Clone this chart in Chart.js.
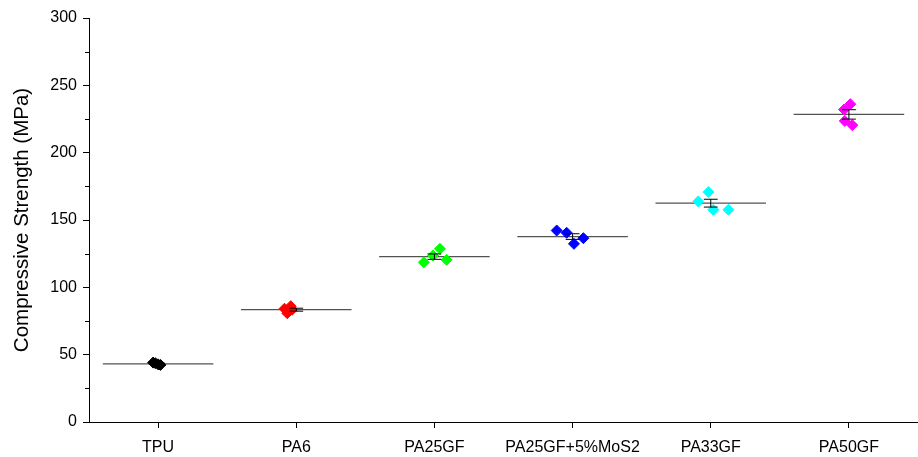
<!DOCTYPE html>
<html>
<head>
<meta charset="utf-8">
<script src="https://cdn.jsdelivr.net/npm/chart.js@4/dist/chart.umd.min.js"></script>
<style>
html,body{margin:0;padding:0;background:#fff;}
#wrap{width:918px;height:457px;}
</style>
</head>
<body>
<div id="wrap"><canvas id="c" width="918" height="457"></canvas></div>
<script>
// ---- data ----
const categories = ['TPU', 'PA6', 'PA25GF', 'PA25GF+5%MoS2', 'PA33GF', 'PA50GF'];
const means  = [43.2, 83.4, 122.8, 137.7, 162.5, 228.4];
const errors = [0.5, 1.1, 2.0, 2.1, 2.9, 3.5];

const tpuValues    = [44.1, 43.7, 42.8, 42.4];
const pa6Values    = [86.0, 84.1, 80.8, 83.4];
const pa25Values   = [118.6, 123.6, 128.6, 120.4];
const mos2Values   = [142.2, 140.5, 132.3, 136.5];
const pa33Values   = [163.8, 170.7, 157.6, 157.6];
const pa50Values   = [236.0, 232.0, 223.6, 220.4];

// horizontal jitter of individual specimens (category units)
const tpuJitter  = [-0.036, -0.02, 0.0, 0.017];
const pa6Jitter  = [-0.04, -0.085, -0.065, -0.03];
const pa25Jitter = [-0.076, -0.01, 0.04, 0.088];
const mos2Jitter = [-0.115, -0.043, 0.01, 0.078];
const pa33Jitter = [-0.09, -0.017, 0.019, 0.128];
const pa50Jitter = [0.01, -0.035, -0.03, 0.025];

const seriesValues = [tpuValues, pa6Values, pa25Values, mos2Values, pa33Values, pa50Values];
const seriesJitter = [tpuJitter, pa6Jitter, pa25Jitter, mos2Jitter, pa33Jitter, pa50Jitter];
const colors = ['#000000', '#ff0000', '#00ff00', '#0000ff', '#00ffff', '#ff00ff'];

const FONT = "'Liberation Sans', Arial, Helvetica, sans-serif";
const MEAN_HALF = 0.4;
const CAP_HALF = 0.05;

// ---- build datasets ----
const datasets = [];

// error bars (top layer)
const errData = [];
means.forEach((m, i) => {
  const e = errors[i];
  errData.push({x: i, y: m - e}, {x: i, y: m + e}, {x: i, y: null});
  errData.push({x: i - CAP_HALF, y: m + e}, {x: i + CAP_HALF, y: m + e}, {x: i, y: null});
  errData.push({x: i - CAP_HALF, y: m - e}, {x: i + CAP_HALF, y: m - e}, {x: i, y: null});
});
datasets.push({
  data: errData, showLine: true, spanGaps: false, pointRadius: 0,
  borderColor: '#000', borderWidth: 1, order: 0
});

// specimens
seriesValues.forEach((vals, i) => {
  datasets.push({
    data: vals.map((v, k) => ({x: i + seriesJitter[i][k], y: v})),
    pointStyle: 'rectRot', pointRadius: 5.5, pointBorderWidth: 1,
    backgroundColor: colors[i], borderColor: colors[i], order: 1
  });
});

// mean lines (bottom layer)
const meanData = [];
means.forEach((m, i) => {
  meanData.push({x: i - MEAN_HALF, y: m}, {x: i + MEAN_HALF, y: m}, {x: i, y: null});
});
datasets.push({
  data: meanData, showLine: true, spanGaps: false, pointRadius: 0,
  borderColor: 'rgba(40,40,40,0.8)', borderWidth: 1.3, order: 2
});

const minorTicks = {
  id: 'minorTicks',
  afterDraw(chart) {
    const y = chart.scales.y;
    const ctx = chart.ctx;
    ctx.save();
    ctx.strokeStyle = '#000';
    ctx.lineWidth = 1;
    for (let v = 25; v < 300; v += 50) {
      const py = Math.round(y.getPixelForValue(v)) + 0.5;
      ctx.beginPath();
      ctx.moveTo(y.right - 4, py);
      ctx.lineTo(y.right, py);
      ctx.stroke();
    }
    ctx.restore();
  }
};

new Chart(document.getElementById('c'), {
  type: 'scatter',
  data: {datasets},
  options: {
    responsive: false,
    animation: false,
    devicePixelRatio: 1,
    layout: {autoPadding: false, padding: {top: 18, right: 0, bottom: 0, left: 0}},
    plugins: {legend: {display: false}, tooltip: {enabled: false}},
    scales: {
      x: {
        type: 'linear', min: -0.5, max: 5.5,
        afterBuildTicks: s => { s.ticks = categories.map((_, i) => ({value: i})); },
        afterFit: s => { s.height = 35; s.paddingLeft = 0; s.paddingRight = 0; },
        ticks: {
          callback: v => categories[v],
          autoSkip: false, maxRotation: 0, color: '#000', padding: 10,
          font: {family: FONT, size: 16}
        },
        grid: {drawOnChartArea: false, color: '#000', tickLength: 6, tickWidth: 1},
        border: {color: '#000', width: 1}
      },
      y: {
        min: 0, max: 300,
        afterFit: s => { s.width = 89; },
        ticks: {stepSize: 50, color: '#000', padding: 6, font: {family: FONT, size: 16}},
        grid: {drawOnChartArea: false, color: '#000', tickLength: 6, tickWidth: 1},
        border: {color: '#000', width: 1},
        title: {
          display: true, text: 'Compressive Strength (MPa)', color: '#000',
          font: {family: FONT, size: 20.5}, padding: {top: 10, bottom: 0}
        }
      }
    }
  },
  plugins: [minorTicks]
});
</script>
</body>
</html>
